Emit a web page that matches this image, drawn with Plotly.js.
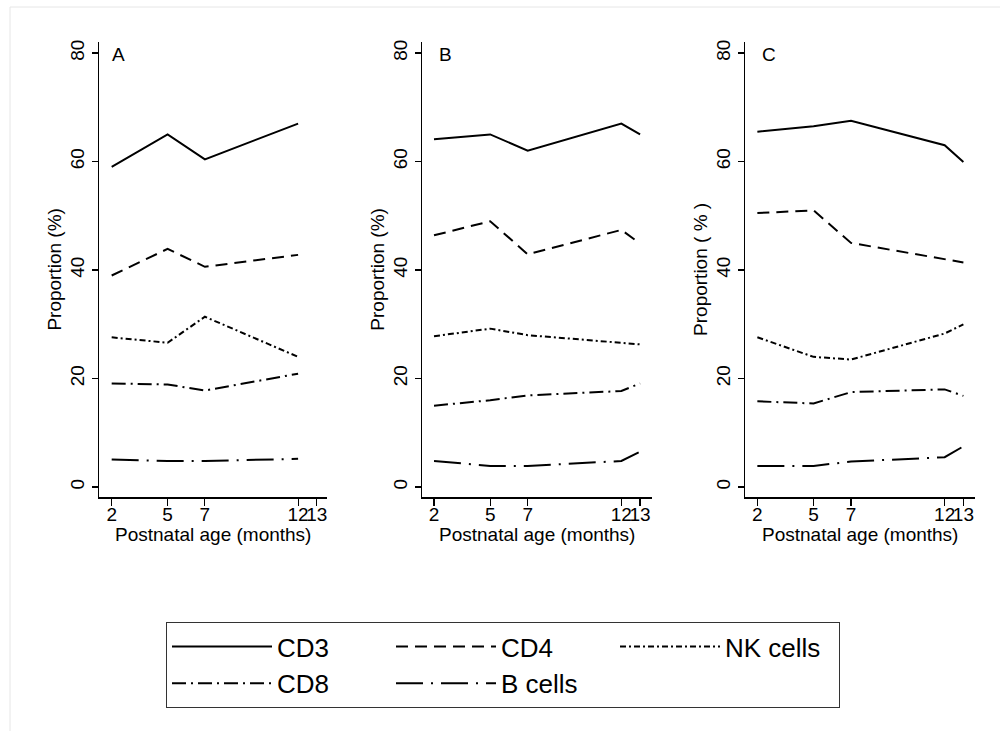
<!DOCTYPE html>
<html>
<head>
<meta charset="utf-8">
<script src="https://cdn.plot.ly/plotly-3.0.1.min.js"></script>
<style>html,body{margin:0;padding:0;background:#fff;}#chart{width:1000px;height:731px;}</style>
</head>
<body>
<div id="chart"></div>
<script>
// ---- data ----
const months = [2, 5, 7, 12, 13];
const monthsA = [2, 5, 7, 12];
const tickLabels = ['2', '5', '7', '12', '13'];
const seriesNames = ['CD3', 'CD4', 'NK cells', 'CD8', 'B cells'];
const panelLabels = ['A', 'B', 'C'];
const yTitles = ['Proportion (%)', 'Proportion (%)', 'Proportion ( % )'];
const xTitle = 'Postnatal age (months)';

// Panel A (no 13-month value)
const A_CD3 = [59.0, 65.0, 60.4, 67.0];
const A_CD4 = [39.0, 43.9, 40.6, 42.8];
const A_NK  = [27.6, 26.6, 31.4, 24.0];
const A_CD8 = [19.1, 18.9, 17.8, 20.9];
const A_B   = [5.1, 4.8, 4.8, 5.2];
// Panel B
const B_CD3 = [64.1, 65.0, 62.0, 67.0, 65.0];
const B_CD4 = [46.4, 49.0, 42.9, 47.4, 44.9];
const B_NK  = [27.8, 29.2, 28.0, 26.5, 26.3];
const B_CD8 = [15.0, 16.0, 16.9, 17.7, 19.1];
const B_B   = [4.8, 3.9, 3.9, 4.8, 6.5];
// Panel C
const C_CD3 = [65.5, 66.5, 67.5, 63.0, 59.9];
const C_CD4 = [50.5, 51.0, 45.0, 42.0, 41.4];
const C_NK  = [27.6, 24.0, 23.5, 28.3, 30.0];
const C_CD8 = [15.8, 15.4, 17.5, 18.0, 16.8];
const C_B   = [3.9, 3.9, 4.7, 5.5, 7.5];

// ---- styles ----
const dashes = ['solid', '12px,7px', '6px,3px,2px,3px', '14px,5px,2px,5px', '27px,8px,2px,8px'];
const FONT = 'Liberation Sans, Arial, sans-serif';

const panels = [
  {x: monthsA, ys: [A_CD3, A_CD4, A_NK, A_CD8, A_B], xa: 'x', ya: 'y'},
  {x: months,  ys: [B_CD3, B_CD4, B_NK, B_CD8, B_B], xa: 'x2', ya: 'y2'},
  {x: months,  ys: [C_CD3, C_CD4, C_NK, C_CD8, C_B], xa: 'x3', ya: 'y3'}
];

const data = [];
panels.forEach((p, pi) => {
  p.ys.forEach((vals, si) => {
    data.push({
      type: 'scatter', mode: 'lines',
      x: p.x, y: vals, xaxis: p.xa, yaxis: p.ya,
      name: seriesNames[si],
      showlegend: pi === 0,
      line: {color: '#000', width: 2, dash: dashes[si]},
      hoverinfo: 'skip'
    });
  });
});

// plot area: l=99, r=25 -> width 876
const ML = 99, MR = 25, GW = 1000 - ML - MR;
const px = v => (v - ML) / GW;
const yRange = [-1.85, 82.1];
const yDom = [0.320, 0.943];
const xDoms = [[px(99), px(327)], [px(422.3), px(651.7)], [px(745), 1]];
const xRanges = [[1.32, 13.55], [1.375, 13.62], [1.34, 13.62]];

function xAxis(i) {
  return {
    domain: xDoms[i], range: xRanges[i], anchor: i === 0 ? 'y' : 'y' + (i + 1),
    showline: true, linecolor: '#000', linewidth: 1.5, mirror: false,
    showgrid: false, zeroline: false,
    tickmode: 'array', tickvals: months, ticktext: tickLabels, tickangle: 0,
    ticks: 'outside', ticklen: 7, tickwidth: 1.2, tickcolor: '#000',
    ticklabelstandoff: -7,
    tickfont: {family: FONT, size: 19, color: '#000'},
    fixedrange: true
  };
}
function yAxis(i) {
  return {
    domain: yDom, range: yRange, anchor: i === 0 ? 'x' : 'x' + (i + 1),
    showline: true, linecolor: '#000', linewidth: 1.5,
    showgrid: false, zeroline: false,
    tickmode: 'array', tickvals: [0, 20, 40, 60, 80], tickangle: -90,
    ticks: 'outside', ticklen: 6, tickwidth: 1.2, tickcolor: '#000',
    tickfont: {family: FONT, size: 19, color: '#000'},
    title: {text: yTitles[i], font: {family: FONT, size: 19, color: '#000'}, standoff: 0},
    fixedrange: true
  };
}
function gridAxis(i) {
  return {
    domain: yDom, range: yRange, anchor: i === 0 ? 'x' : 'x' + (i + 1),
    overlaying: i === 0 ? 'y' : 'y' + (i + 1),
    showline: false, zeroline: false, showticklabels: false, ticks: '',
    showgrid: true, gridcolor: '#ececec', gridwidth: 1,
    tickmode: 'array', tickvals: [0, 20, 40, 60],
    layer: 'below traces', fixedrange: true
  };
}

const panelAnnotations = panelLabels.map((t, i) => ({
  text: t, showarrow: false,
  xref: (i === 0 ? 'x' : 'x' + (i + 1)) + ' domain',
  yref: (i === 0 ? 'y' : 'y' + (i + 1)) + ' domain',
  x: [0.05, 0.065, 0.065][i], y: 0.971, xanchor: 'left', yanchor: 'middle',
  font: {family: FONT, size: 19, color: '#000'}
}));
const xTitleAnnotations = panelLabels.map((t, i) => ({
  text: xTitle, showarrow: false,
  xref: (i === 0 ? 'x' : 'x' + (i + 1)) + ' domain',
  yref: (i === 0 ? 'y' : 'y' + (i + 1)) + ' domain',
  x: 0.5, y: -0.082, xanchor: 'center', yanchor: 'middle',
  font: {family: FONT, size: 19, color: '#000'}
}));

const layout = {
  width: 1000, height: 731,
  margin: {l: ML, r: MR, t: 0, b: 0, pad: 0, autoexpand: false},
  paper_bgcolor: '#fff', plot_bgcolor: 'rgba(0,0,0,0)',
  font: {family: FONT, color: '#000'},
  xaxis: xAxis(0), xaxis2: xAxis(1), xaxis3: xAxis(2),
  yaxis: yAxis(0), yaxis2: yAxis(1), yaxis3: yAxis(2),
  yaxis4: gridAxis(0), yaxis5: gridAxis(1), yaxis6: gridAxis(2),
  showlegend: true,
  legend: {
    orientation: 'h', x: px(166), xanchor: 'left', y: 1 - 622 / 731, yanchor: 'top',
    bordercolor: '#333', borderwidth: 1, bgcolor: '#fff',
    font: {family: FONT, size: 26, color: '#000'},
    itemwidth: 100, entrywidth: 109, entrywidthmode: 'pixels',
    traceorder: 'normal'
  },
  annotations: panelAnnotations.concat(xTitleAnnotations),
  shapes: [{
    type: 'rect', xref: 'paper', yref: 'paper',
    x0: px(10), x1: 1.1, y0: -0.05, y1: 1 - 7 / 731,
    line: {color: '#e6e6e6', width: 1}, fillcolor: 'rgba(0,0,0,0)', layer: 'below'
  }]
};

Plotly.newPlot('chart', data, layout, {staticPlot: true, displayModeBar: false});
</script>
</body>
</html>
